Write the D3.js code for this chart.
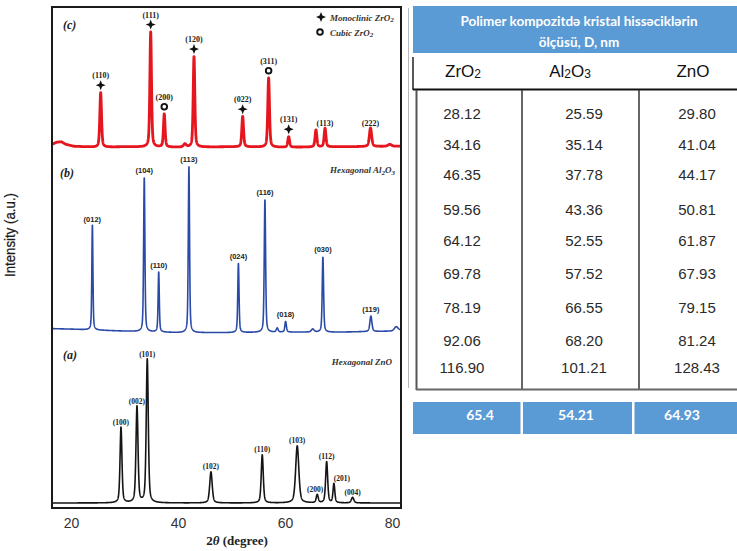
<!DOCTYPE html>
<html>
<head>
<meta charset="utf-8">
<script src="https://cdn.jsdelivr.net/npm/d3@7"></script>
<style>
  body { margin: 0; background: #fff; }
  svg { display: block; }
</style>
</head>
<body>
<svg id="fig" width="737" height="551"></svg>
<script>
// ---------------- XRD data (2θ in degrees, intensity in arbitrary units) ----------------
// (c) ZrO2 — monoclinic + cubic
const zro2Theta  = [25.55, 34.90, 37.44, 43.00, 52.10, 56.95, 60.70, 65.80, 67.50, 76.00, 41.30, 79.60];
const zro2Height = [109,   230,   66,    181,   61,    138,   21,    34,    37,    37,    6,     4];
const zro2Fwhm   = [0.38,  0.36,  0.36,  0.36,  0.38,  0.38,  0.40,  0.40,  0.40,  0.50,  0.6,   0.8];
const zro2Hkl    = ["(110)", "(111)", "(200)", "(120)", "(022)", "(311)", "(131)", "", "(113)", "(222)", "", ""];
const zro2Phase  = ["m", "m", "c", "m", "m", "c", "m", "", "", "", "", ""];
const zro2Bg     = [[16.5, 8], [17.3, 12], [18.2, 13], [19.0, 8], [20.5, 4], [25, 2], [30, 3], [40, 2], [50, 3], [60, 2], [70, 3], [81.7, 4]];

// (b) Al2O3 — hexagonal
const al2o3Theta  = [24.00, 33.70, 36.40, 42.05, 51.30, 56.26, 58.56, 60.13, 67.10, 76.07, 65.20, 80.80];
const al2o3Height = [210,   308,   120,   331,   138,   265,   8,     21,    150,   31,    6,     8];
const al2o3Fwhm   = [0.24,  0.28,  0.26,  0.28,  0.28,  0.30,  0.40,  0.34,  0.30,  0.45,  0.6,   0.8];
const al2o3Hkl    = ["(012)", "(104)", "(110)", "(113)", "(024)", "(116)", "", "(018)", "(030)", "(119)", "", ""];
const al2o3Bg     = [[16.5, 5], [20, 4], [25, 2], [30, 0], [40, -3], [50, -3], [60, -2], [70, -2], [80, 0], [81.7, 2]];

// (a) ZnO — hexagonal wurtzite
const znoTheta  = [29.35, 32.34, 34.26, 46.17, 55.76, 62.30, 66.04, 67.80, 69.16, 72.65];
const znoHeight = [151,   192,   287,   62,    96,    114,   16,    82,    38,    11];
const znoFwhm   = [0.42,  0.45,  0.45,  0.55,  0.45,  0.70,  0.45,  0.45,  0.40,  0.55];
const znoHkl    = ["(100)", "(002)", "(101)", "(102)", "(110)", "(103)", "(200)", "(112)", "(201)", "(004)"];
const znoBg     = [[16.5, 0], [81.7, 0]];

const xTicks = [20, 40, 60, 80];

// ---------------- Crystallite size table, D (nm) ----------------
const tableTitle = ["Polimer kompozitdə kristal hissəciklərin", "ölçüsü, D, nm"];
const oxideHeads = [[["ZrO", false], ["2", true]],
                    [["Al", false], ["2", true], ["O", false], ["3", true]],
                    [["ZnO", false]]];
const sizeZrO2  = [28.12, 34.16, 46.35, 59.56, 64.12, 69.78, 78.19, 92.06, 116.90];
const sizeAl2O3 = [25.59, 35.14, 37.78, 43.36, 52.55, 57.52, 66.55, 68.20, 101.21];
const sizeZnO   = [29.80, 41.04, 44.17, 50.81, 61.87, 67.93, 79.15, 81.24, 128.43];
const sizeMean  = ["65.4", "54.21", "64.93"];

// ---------------- layout ----------------
const svg = d3.select("#fig");
const frame = { left: 52, right: 401, top: 7, bottom: 508 };

const x = d3.scaleLinear().domain([16.45, 81.7]).range([frame.left, frame.right]);
const y = d3.scaleLinear().domain([-10, 990]).range([frame.bottom, frame.top]);

// vertical stacking of the three patterns
const offsetZnO = 0, offsetAl = 343, offsetZr = 708;

svg.append("rect").attr("width", 737).attr("height", 551).attr("fill", "#fff");

svg.append("clipPath").attr("id", "plotClip")
  .append("rect")
  .attr("x", frame.left).attr("y", frame.top)
  .attr("width", frame.right - frame.left).attr("height", frame.bottom - frame.top);

// pseudo-Voigt peak profile summed over a 2θ grid
const grid = d3.range(16.45, 81.7, 0.02);
function pattern(theta, height, fwhm, bg, offset) {
  const base = d3.scaleLinear().domain(bg.map(d => d[0])).range(bg.map(d => d[1]));
  const eta = 0.45;
  return grid.map(t => {
    let v = base(t);
    for (let i = 0; i < theta.length; i++) {
      const u = (t - theta[i]) / (fwhm[i] / 2);
      v += height[i] * (eta / (1 + u * u) + (1 - eta) * Math.exp(-Math.LN2 * u * u));
    }
    return [t, v + offset];
  });
}

const line = d3.line().x(d => x(d[0])).y(d => y(d[1]));
const plot = svg.append("g").attr("clip-path", "url(#plotClip)");

plot.append("path").datum(pattern(znoTheta, znoHeight, znoFwhm, znoBg, offsetZnO))
  .attr("d", line).attr("fill", "none").attr("stroke", "#151515").attr("stroke-width", 1.6)
  .attr("stroke-linejoin", "round");
plot.append("path").datum(pattern(al2o3Theta, al2o3Height, al2o3Fwhm, al2o3Bg, offsetAl))
  .attr("d", line).attr("fill", "none").attr("stroke", "#2a4aa8").attr("stroke-width", 1.6)
  .attr("stroke-linejoin", "round");
plot.append("path").datum(pattern(zro2Theta, zro2Height, zro2Fwhm, zro2Bg, offsetZr))
  .attr("d", line).attr("fill", "none").attr("stroke", "#e5161e").attr("stroke-width", 2.8)
  .attr("stroke-linejoin", "round");

// frame
svg.append("rect")
  .attr("x", frame.left).attr("y", frame.top)
  .attr("width", frame.right - frame.left).attr("height", frame.bottom - frame.top)
  .attr("fill", "none").attr("stroke", "#1a1a1a").attr("stroke-width", 2);

// x axis
const xAxis = svg.append("g")
  .attr("transform", `translate(0,${frame.bottom})`)
  .call(d3.axisBottom(x).tickValues(xTicks).tickSize(0).tickPadding(10).tickFormat(d3.format("d")));
xAxis.select(".domain").remove();
xAxis.selectAll("text")
  .attr("font-family", "Liberation Sans, Arial, sans-serif")
  .attr("font-size", 14).attr("fill", "#333");

svg.append("text")
  .attr("x", 237).attr("y", 545)
  .attr("text-anchor", "middle")
  .attr("font-family", "Liberation Serif, Times New Roman, serif")
  .attr("font-weight", "bold").attr("font-size", 13).attr("fill", "#222")
  .call(t => {
    t.append("tspan").text("2");
    t.append("tspan").attr("font-style", "italic").text("θ");
    t.append("tspan").text(" (degree)");
  });

svg.append("text")
  .attr("transform", "translate(15,235) rotate(-90)")
  .attr("text-anchor", "middle")
  .attr("font-family", "Liberation Sans, Arial, sans-serif")
  .attr("font-size", 15.5).attr("fill", "#1a1a1a")
  .attr("stroke", "#1a1a1a").attr("stroke-width", 0.25)
  .attr("textLength", 84).attr("lengthAdjust", "spacingAndGlyphs")
  .text("Intensity (a.u.)");

// panel letters and phase names
const serif = "Liberation Serif, Times New Roman, serif";
[["(c)", 63, 29], ["(b)", 60, 177], ["(a)", 63, 359]].forEach(([s, px, py]) => {
  svg.append("text").attr("x", px).attr("y", py)
    .attr("font-family", serif).attr("font-style", "italic").attr("font-weight", "bold")
    .attr("font-size", 12).attr("fill", "#222").text(s);
});

function phaseName(px, py, parts) {
  const t = svg.append("text").attr("x", px).attr("y", py).attr("text-anchor", "end")
    .attr("font-family", serif).attr("font-style", "italic").attr("font-weight", "bold")
    .attr("font-size", 9).attr("fill", "#333");
  parts.forEach(([s, sub], i) => {
    const ts = t.append("tspan").text(s);
    if (sub) ts.attr("font-size", 7).attr("dy", 1.5);
    else if (i > 0 && parts[i - 1][1]) ts.attr("dy", -1.5);
  });
}
phaseName(395, 173, [["Hexagonal Al", false], ["2", true], ["O", false], ["3", true]]);
phaseName(392, 365, [["Hexagonal ZnO", false]]);

// ZrO2 phase markers
const starPath = s => { const a = s * 0.28;
  return `M0,${-s}L${a},${-a}L${s},0L${a},${a}L0,${s}L${-a},${a}L${-s},0L${-a},${-a}Z`; };
function marker(kind, px, py) {
  if (kind === "m") {
    svg.append("path").attr("d", starPath(5)).attr("transform", `translate(${px},${py})`)
      .attr("fill", "#111");
  } else {
    svg.append("circle").attr("cx", px).attr("cy", py).attr("r", 2.8)
      .attr("fill", "#fff").attr("stroke", "#111").attr("stroke-width", 1.9);
  }
}

// legend
marker("m", 321, 17);
marker("c", 320, 32);
[["Monoclinic ZrO", 20.5], ["Cubic ZrO", 35.5]].forEach(([s, py]) => {
  const t = svg.append("text").attr("x", 330).attr("y", py)
    .attr("font-family", serif).attr("font-style", "italic").attr("font-weight", "bold")
    .attr("font-size", 9).attr("fill", "#333");
  t.append("tspan").text(s);
  t.append("tspan").attr("font-size", 7).attr("dy", 1.5).text("2");
});

// hkl labels
const labelNudge = { "zno(200)": -2, "zno(201)": 8 };
function hklLabels(key, theta, height, hkl, offset, opts) {
  theta.forEach((t, i) => {
    if (!hkl[i]) return;
    const top = y(offset + height[i]);
    const hasMarker = opts.phase && opts.phase[i];
    const px = x(t) + (labelNudge[key + hkl[i]] || 0);
    if (hasMarker) marker(opts.phase[i], x(t), top - 8.5);
    svg.append("text")
      .attr("x", px).attr("y", top - (hasMarker ? 18 : opts.gap) + 2.5)
      .attr("text-anchor", "middle")
      .attr("font-family", opts.font).attr("font-weight", "bold")
      .attr("font-size", opts.size).attr("fill", opts.color)
      .text(hkl[i]);
  });
}
hklLabels("zr", zro2Theta, zro2Height, zro2Hkl, offsetZr,
  { phase: zro2Phase, gap: 6, font: serif, size: 8, color: "#222" });
hklLabels("al", al2o3Theta, al2o3Height, al2o3Hkl, offsetAl,
  { gap: 6, font: "Liberation Sans, Arial, sans-serif", size: 7.5, color: "#222" });
hklLabels("zno", znoTheta, znoHeight, znoHkl, offsetZnO,
  { gap: 5, font: serif, size: 7.5, color: "#222" });

// ---------------- table ----------------
const blue = "#5b9bd5";
const sans = "Liberation Sans, Arial, sans-serif";
const tbl = svg.append("g");

// faint page edge
tbl.append("line").attr("x1", 408.5).attr("x2", 408.5).attr("y1", 8).attr("y2", 388)
  .attr("stroke", "#b8b8b8").attr("stroke-width", 1);

tbl.append("rect").attr("x", 413).attr("y", 6).attr("width", 324).attr("height", 47).attr("fill", blue);
tableTitle.forEach((s, i) => {
  tbl.append("text").attr("x", 579).attr("y", 26 + i * 21)
    .attr("text-anchor", "middle").attr("font-family", "Lato, Open Sans, sans-serif")
    .attr("font-weight", "bold").attr("font-size", 13.5).attr("fill", "#fff").text(s);
});

const colX = [462, 584, 697];
const headX = [463, 570, 693];
oxideHeads.forEach((parts, i) => {
  const t = tbl.append("text").attr("x", headX[i]).attr("y", 77).attr("text-anchor", "middle")
    .attr("font-family", sans).attr("font-size", 17).attr("fill", "#111");
  parts.forEach(([s, sub], j) => {
    const ts = t.append("tspan").text(s);
    if (sub) ts.attr("font-size", 12).attr("dy", 1);
    else if (j > 0 && parts[j - 1][1]) ts.attr("dy", -1);
  });
});

// grid lines
tbl.append("line").attr("x1", 413).attr("x2", 413).attr("y1", 57).attr("y2", 90)
  .attr("stroke", "#222").attr("stroke-width", 1.5);
tbl.append("line").attr("x1", 413).attr("x2", 737).attr("y1", 89.5).attr("y2", 89.5)
  .attr("stroke", "#111").attr("stroke-width", 2);
tbl.append("line").attr("x1", 416.5).attr("x2", 416.5).attr("y1", 90).attr("y2", 390)
  .attr("stroke", "#555").attr("stroke-width", 2);
[522, 639].forEach(cx => tbl.append("line").attr("x1", cx).attr("x2", cx).attr("y1", 90).attr("y2", 390)
  .attr("stroke", "#333").attr("stroke-width", 1.5));
tbl.append("line").attr("x1", 416).attr("x2", 737).attr("y1", 389.5).attr("y2", 389.5)
  .attr("stroke", "#666").attr("stroke-width", 2);

const rowY = [113, 144, 174, 209, 240, 273, 307, 340, 367];
[sizeZrO2, sizeAl2O3, sizeZnO].forEach((col, c) => {
  tbl.selectAll(null).data(col).enter().append("text")
    .attr("x", colX[c]).attr("y", (d, r) => rowY[r] + 5.5)
    .attr("text-anchor", "middle").attr("font-family", sans).attr("font-size", 15)
    .attr("fill", "#2a2a2a").text(d => d.toFixed(2));
});

// mean row
const meanCells = [[413, 520.5], [523, 632], [634.5, 737]];
const meanX = [480, 576, 682];
meanCells.forEach(([a, b], i) => {
  tbl.append("rect").attr("x", a).attr("y", 402).attr("width", b - a).attr("height", 32).attr("fill", blue);
  tbl.append("text").attr("x", meanX[i]).attr("y", 420)
    .attr("text-anchor", "middle").attr("font-family", "Lato, Open Sans, sans-serif")
    .attr("font-weight", "bold").attr("font-size", 14).attr("fill", "#fff").text(sizeMean[i]);
});
</script>
</body>
</html>
